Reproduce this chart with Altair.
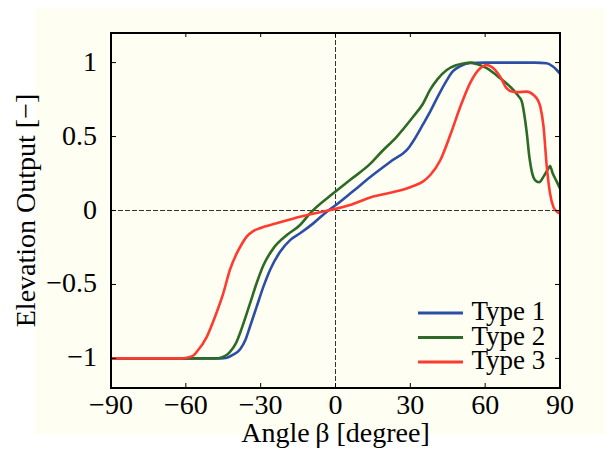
import altair as alt
import pandas as pd

# ---- data ----
series_names = ["Type 1", "Type 2", "Type 3"]
colors = ["#2c4ea6", "#2d6a27", "#ff3a2f"]

t1_x = [-90, -60, -46, -43.5, -41, -38.3, -36, -34.3, -31.6, -28.9, -26.2, -22.2, -18.2, -14.2, -8.9, -3.5, 0,
        7, 14.2, 22, 29.6, 31.2, 35, 38, 41, 44.6, 47, 49.9, 53.9, 60, 70, 80, 84.7, 87, 88.7, 90]
t1_y = [-1, -1, -1, -0.995, -0.975, -0.94, -0.87, -0.786, -0.65, -0.515, -0.40, -0.279, -0.20, -0.154, -0.087, -0.008, 0.035,
        0.13, 0.23, 0.33, 0.43, 0.47, 0.58, 0.67, 0.77, 0.88, 0.94, 0.975, 0.997, 1, 1, 1, 0.995, 0.975, 0.95, 0.925]

t2_x = [-90, -60, -48, -46, -44, -42.3, -40, -38.3, -34.3, -31.6, -28.9, -24.9, -19.5, -14.2, -10.2, -0.9, 5.8,
        14.2, 17.9, 24.6, 31.2, 35, 37.9, 41, 44.6, 48, 51.2, 54, 56.6, 60.6, 66, 71.3, 73.5, 74.7, 75.6, 76.7,
        77.7, 78.7, 80, 81.6, 83.4, 85.4, 86, 87.1, 88.7, 90]
t2_y = [-1, -1, -1, -0.995, -0.98, -0.955, -0.9, -0.83, -0.63, -0.49, -0.37, -0.256, -0.166, -0.098, -0.019, 0.116, 0.206,
        0.32, 0.387, 0.50, 0.635, 0.72, 0.815, 0.89, 0.95, 0.98, 0.993, 1.0, 0.99, 0.962, 0.894, 0.815, 0.77, 0.736, 0.658, 0.522,
        0.364, 0.263, 0.206, 0.191, 0.229, 0.286, 0.30, 0.25, 0.195, 0.15]

t3_x = [-90, -62, -59.6, -57, -55.6, -51.6, -48.3, -45, -42.3, -39.6, -37.5, -35.6, -33, -30.3, -23.6, -14.2, -3.5, 0,
        5.8, 14.2, 22, 29.6, 31, 35, 38, 42, 46, 50, 53.9, 58, 60.6, 63.3, 66, 68.6, 70.7, 73, 76.7, 79.4, 81,
        82.1, 83.4, 84.7, 86, 87.3, 88.5, 90]
t3_y = [-1, -1, -0.995, -0.98, -0.955, -0.854, -0.718, -0.56, -0.40, -0.29, -0.225, -0.177, -0.14, -0.12, -0.087, -0.042, -0.001, 0.011,
        0.037, 0.09, 0.12, 0.155, 0.165, 0.195, 0.24, 0.34, 0.51, 0.70, 0.86, 0.962, 0.984, 0.962, 0.905, 0.827, 0.804, 0.80, 0.804, 0.781, 0.75,
        0.702, 0.567, 0.296, 0.116, 0.026, -0.005, -0.02]

x_ticks = [-90, -60, -30, 0, 30, 60, 90]
x_tick_labels = ["\u221290", "\u221260", "\u221230", "0", "30", "60", "90"]
y_ticks = [-1, -0.5, 0, 0.5, 1]
y_tick_labels = ["\u22121", "\u22120.5", "0", "0.5", "1"]
x_title = "Angle\u2009β  [degree]"
y_title = "Elevation Output [\u2212]"

rows = []
for name, xs, ys in zip(series_names, [t1_x, t2_x, t3_x], [t1_y, t2_y, t3_y]):
    for a, b in zip(xs, ys):
        rows.append({"beta": a, "out": b, "type": name})
lines_df = pd.DataFrame(rows)
xt_df = pd.DataFrame({"v": x_ticks, "lab": x_tick_labels})
yt_df = pd.DataFrame({"v": y_ticks, "lab": y_tick_labels})
one = pd.DataFrame({"k": [0]})

W, H = 449, 355
FONT = "Liberation Serif"
FS = 28
xscale = alt.Scale(domain=[-90, 90], nice=False, zero=False)
yscale = alt.Scale(domain=[-1.2, 1.2], nice=False, zero=False)

bg = alt.Chart(one).mark_rect(color="#fefef2").encode(
    x=alt.value(-76), x2=alt.value(W + 45), y=alt.value(-25), y2=alt.value(402)
)

zero_h = alt.Chart(one).mark_rule(color="#333333", strokeWidth=1, strokeDash=[5, 2]).encode(
    x=alt.value(0), x2=alt.value(W), y=alt.Y(datum=0, scale=yscale, axis=None)
)
zero_v = alt.Chart(one).mark_rule(color="#333333", strokeWidth=1, strokeDash=[5, 2]).encode(
    y=alt.value(0), y2=alt.value(H), x=alt.X(datum=0, scale=xscale, axis=None)
)

lines = alt.Chart(lines_df).mark_line(strokeWidth=2.6, interpolate="monotone").encode(
    x=alt.X("beta:Q", scale=xscale, axis=None),
    y=alt.Y("out:Q", scale=yscale, axis=None),
    color=alt.Color("type:N", scale=alt.Scale(domain=series_names, range=colors), legend=None),
    detail="type:N",
)

tick_style = dict(color="black", strokeWidth=1)
yt_left = alt.Chart(yt_df).mark_rule(**tick_style).encode(
    x=alt.value(0), x2=alt.value(5), y=alt.Y("v:Q", scale=yscale, axis=None))
yt_right = alt.Chart(yt_df).mark_rule(**tick_style).encode(
    x=alt.value(W - 5), x2=alt.value(W), y=alt.Y("v:Q", scale=yscale, axis=None))
xt_bottom = alt.Chart(xt_df).mark_rule(**tick_style).encode(
    y=alt.value(H - 5), y2=alt.value(H), x=alt.X("v:Q", scale=xscale, axis=None))
xt_top = alt.Chart(xt_df).mark_rule(**tick_style).encode(
    y=alt.value(0), y2=alt.value(4), x=alt.X("v:Q", scale=xscale, axis=None))

x_labels = alt.Chart(xt_df).mark_text(font=FONT, fontSize=FS, color="black", align="center",
                                      baseline="alphabetic").encode(
    x=alt.X("v:Q", scale=xscale, axis=None), y=alt.value(H + 26), text="lab:N")
y_labels = alt.Chart(yt_df).mark_text(font=FONT, fontSize=FS, color="black", align="right",
                                      baseline="middle").encode(
    y=alt.Y("v:Q", scale=yscale, axis=None), x=alt.value(-14), text="lab:N")

x_title_mark = alt.Chart(one).mark_text(font=FONT, fontSize=FS, color="black", align="center",
                                        baseline="alphabetic", text=x_title).encode(
    x=alt.value(W / 2), y=alt.value(H + 54))
y_title_mark = alt.Chart(one).mark_text(font=FONT, fontSize=FS, color="black", align="center",
                                        baseline="alphabetic", angle=270, text=y_title).encode(
    x=alt.value(-76), y=alt.value(H / 2))

frame = alt.Chart(one).mark_rect(fillOpacity=0, stroke="black", strokeWidth=2).encode(
    x=alt.value(0), x2=alt.value(W), y=alt.value(0), y2=alt.value(H)
)

# legend (drawn by hand so that its rows can sit as tightly as in the reference)
legend_layers = []
row_y = [280, 304.5, 329]
for name, col, ry in zip(series_names, colors, row_y):
    legend_layers.append(alt.Chart(one).mark_rule(color=col, strokeWidth=3).encode(
        x=alt.value(307), x2=alt.value(352), y=alt.value(ry)))
    legend_layers.append(alt.Chart(one).mark_text(font=FONT, fontSize=27, color="black", align="left",
                                                  baseline="alphabetic", text=name).encode(
        x=alt.value(360.5), y=alt.value(ry + 7)))

chart = alt.layer(bg, zero_h, zero_v, lines, yt_left, yt_right, xt_bottom, xt_top, frame,
                  x_labels, y_labels, x_title_mark, y_title_mark, *legend_layers).properties(
    width=W, height=H,
    autosize=alt.AutoSizeParams(type="none"),
    padding={"left": 103, "top": 25, "right": 45, "bottom": 61},
).configure(background="white").configure_view(
    fill="#fefef2", stroke=None
)

chart.save("out.html", embed_options={"renderer": "svg", "actions": False})
